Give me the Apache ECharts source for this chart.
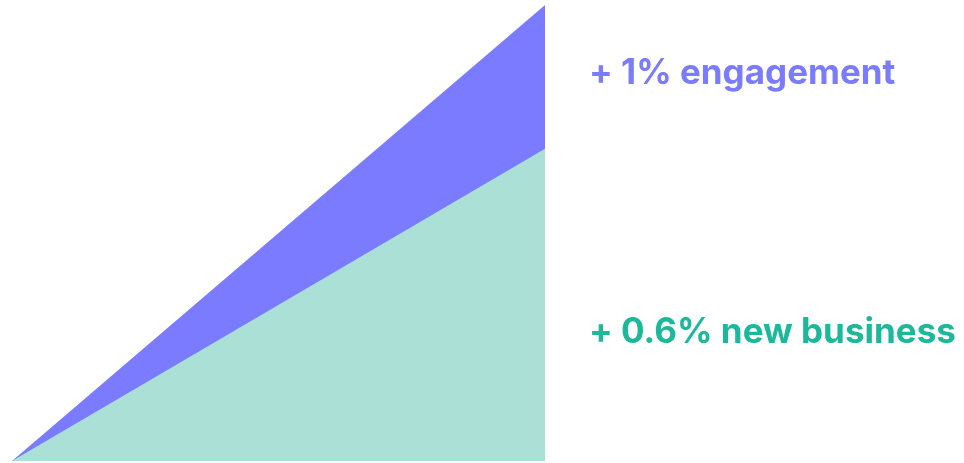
<!DOCTYPE html>
<html>
<head>
<meta charset="utf-8">
<script src="https://cdn.jsdelivr.net/npm/echarts@6/dist/echarts.min.js"></script>
<style>
  html, body { margin: 0; padding: 0; background: #fff; }
  #main { width: 964px; height: 463px; }
</style>
</head>
<body>
<div id="main"></div>
<script>
// start and end of the period (x), relative lift (y)
var xPoints = [0, 1];
var engagement = [0, 1];
var newBusiness = [0, 0.685];
var labels = ['+ 1% engagement', '+ 0.6% new business'];

var chart = echarts.init(document.getElementById('main'));

function pairs(ys) {
  return xPoints.map(function (x, i) { return [x, ys[i]]; });
}

var option = {
  animation: false,
  grid: { left: 12, right: 419, top: 5, bottom: 2 },
  xAxis: { type: 'value', min: 0, max: 1, show: false },
  yAxis: { type: 'value', min: 0, max: 1, show: false },
  series: [
    {
      name: 'engagement',
      type: 'line',
      data: pairs(engagement),
      symbol: 'none',
      lineStyle: { width: 0 },
      areaStyle: { color: '#7b7bff', opacity: 1 }
    },
    {
      name: 'new business',
      type: 'line',
      data: pairs(newBusiness),
      symbol: 'none',
      lineStyle: { width: 0 },
      areaStyle: { color: '#abe0d6', opacity: 1 }
    }
  ],
  graphic: [
    {
      type: 'text', left: 589, top: 56,
      style: { text: labels[0], fill: '#7b7bfe', font: '700 35px Inter' }
    },
    {
      type: 'text', left: 589, top: 315,
      style: { text: labels[1], fill: '#1bb99a', font: '700 35px Inter' }
    }
  ]
};

chart.setOption(option);
</script>
</body>
</html>
